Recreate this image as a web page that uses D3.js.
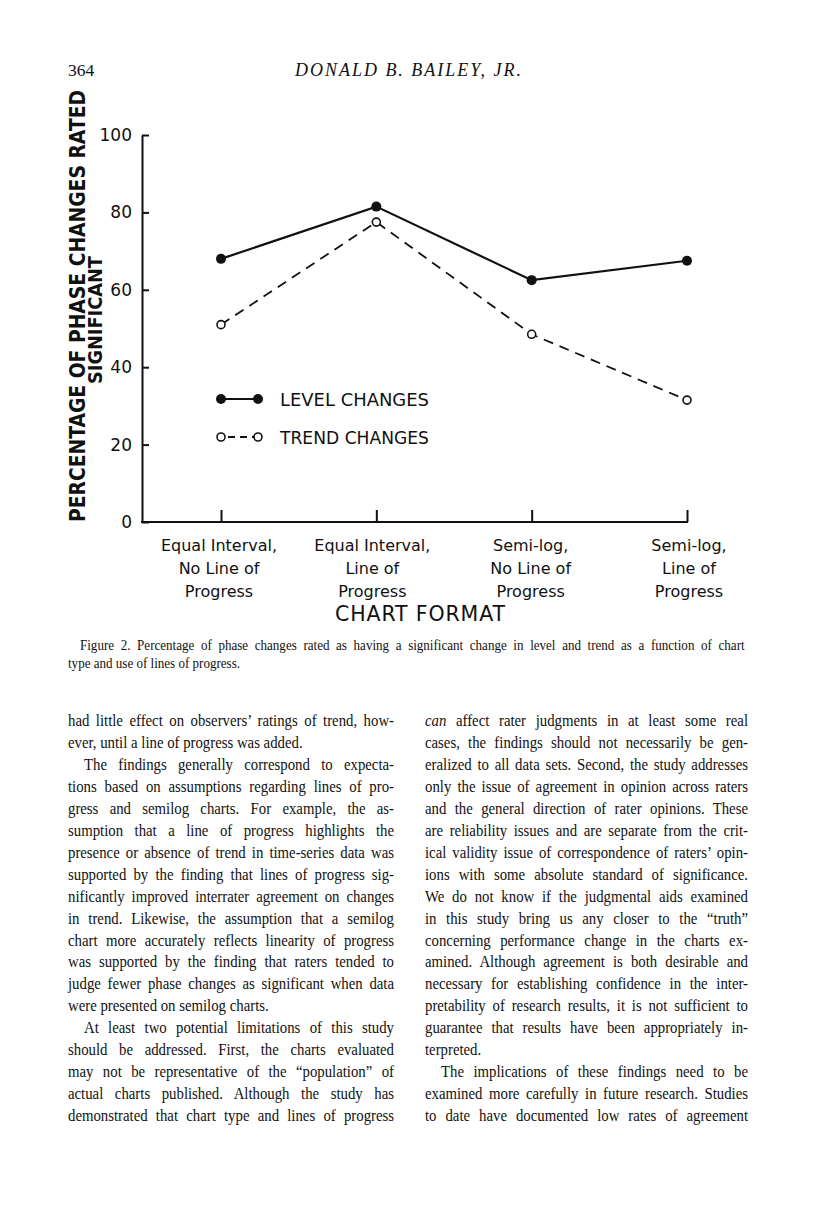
<!DOCTYPE html>
<html>
<head>
<meta charset="utf-8">
<script src="https://cdnjs.cloudflare.com/ajax/libs/d3/7.8.5/d3.min.js"></script>
<style>
	body { margin: 0; background: #fff; }
	svg { display: block; }
</style>
</head>
<body>
<script>
var formatLabels = [
		["Equal Interval,", "No Line of", "Progress"],
		["Equal Interval,", "Line of", "Progress"],
		["Semi-log,", "No Line of", "Progress"],
		["Semi-log,", "Line of", "Progress"]
	],
	formats = formatLabels.map(function(l) { return l.join(" "); }),
	levelChanges = [68, 81.5, 62.5, 67.5],
	trendChanges = [51, 77.5, 48.5, 31.5],
	yTicks = [0, 20, 40, 60, 80, 100];

// ">" = indented first line, "|" = last line of paragraph, *x* = italic
var leftLines = [
	"had little effect on observers\u2019 ratings of trend, how-",
	"ever, until a line of progress was added.|",
	">The findings generally correspond to expecta-",
	"tions based on assumptions regarding lines of pro-",
	"gress and semilog charts. For example, the as-",
	"sumption that a line of progress highlights the",
	"presence or absence of trend in time-series data was",
	"supported by the finding that lines of progress sig-",
	"nificantly improved interrater agreement on changes",
	"in trend. Likewise, the assumption that a semilog",
	"chart more accurately reflects linearity of progress",
	"was supported by the finding that raters tended to",
	"judge fewer phase changes as significant when data",
	"were presented on semilog charts.|",
	">At least two potential limitations of this study",
	"should be addressed. First, the charts evaluated",
	"may not be representative of the \u201Cpopulation\u201D of",
	"actual charts published. Although the study has",
	"demonstrated that chart type and lines of progress"
];

var rightLines = [
	"*can* affect rater judgments in at least some real",
	"cases, the findings should not necessarily be gen-",
	"eralized to all data sets. Second, the study addresses",
	"only the issue of agreement in opinion across raters",
	"and the general direction of rater opinions. These",
	"are reliability issues and are separate from the crit-",
	"ical validity issue of correspondence of raters\u2019 opin-",
	"ions with some absolute standard of significance.",
	"We do not know if the judgmental aids examined",
	"in this study bring us any closer to the \u201Ctruth\u201D",
	"concerning performance change in the charts ex-",
	"amined. Although agreement is both desirable and",
	"necessary for establishing confidence in the inter-",
	"pretability of research results, it is not sufficient to",
	"guarantee that results have been appropriately in-",
	"terpreted.|",
	">The implications of these findings need to be",
	"examined more carefully in future research. Studies",
	"to date have documented low rates of agreement"
];

var captionLines = [
	">Figure 2.  Percentage of phase changes rated as having a significant change in level and trend as a function of chart",
	"type and use of lines of progress.|"
];

var W = 816, H = 1205;
var ink = "#111";
var sans = "'DejaVu Sans', sans-serif",
		serif = "'Liberation Serif', 'Times New Roman', serif";

var svg = d3.select("body").append("svg")
	.attr("width", W)
	.attr("height", H)
	.attr("viewBox", "0 0 " + W + " " + H);

svg.append("rect").attr("width", W).attr("height", H).attr("fill", "#fff");

// running head
svg.append("text")
	.attr("x", 68).attr("y", 76)
	.attr("font-family", serif).attr("font-size", 17.5)
	.attr("fill", ink)
	.text("364");
svg.append("text")
	.attr("x", 408).attr("y", 76)
	.attr("text-anchor", "middle")
	.attr("font-family", serif).attr("font-size", 18)
	.attr("font-style", "italic")
	.attr("textLength", 226).attr("lengthAdjust", "spacing")
	.attr("fill", ink)
	.text("DONALD B. BAILEY, JR.");

// chart
var x = d3.scalePoint().domain(formats).range([221, 687]),
		y = d3.scaleLinear().domain([0, 100]).range([522, 135]);

var chart = svg.append("g").attr("class", "chart");

var yAxis = d3.axisLeft(y)
	.tickValues(yTicks)
	.tickSizeInner(-7)
	.tickSizeOuter(0)
	.tickPadding(10);

chart.append("g")
	.attr("class", "axis axis--y")
	.attr("transform", "translate(142,0)")
	.call(yAxis)
	.call(function(g) {
		g.select(".domain").attr("stroke", ink).attr("stroke-width", 2);
		g.selectAll(".tick line").attr("stroke", ink).attr("stroke-width", 2);
		g.selectAll(".tick text")
			.attr("fill", ink)
			.attr("font-family", sans)
			.attr("font-size", 17);
	});

var xAxis = d3.axisBottom(x)
	.tickSizeInner(-12)
	.tickSizeOuter(0)
	.tickFormat("");

chart.append("g")
	.attr("class", "axis axis--x")
	.attr("transform", "translate(0,522)")
	.call(xAxis)
	.call(function(g) {
		g.select(".domain").remove();
		g.selectAll(".tick line").attr("stroke", ink).attr("stroke-width", 2);
	});

chart.append("line")
	.attr("x1", 141).attr("x2", x(formats[3]) + 1)
	.attr("y1", y(0)).attr("y2", y(0))
	.attr("stroke", ink).attr("stroke-width", 2);

// category labels
var labelShift = [-2, -4, -1, 2];
formatLabels.forEach(function(lines, i) {
	var t = chart.append("text")
		.attr("text-anchor", "middle")
		.attr("font-family", sans)
		.attr("font-size", 16)
		.attr("fill", ink);
	lines.forEach(function(line, j) {
		t.append("tspan")
			.attr("x", x(formats[i]) + labelShift[i])
			.attr("y", 551 + j * 23)
			.text(line);
	});
});

chart.append("text")
	.attr("x", 420).attr("y", 621)
	.attr("text-anchor", "middle")
	.attr("font-family", sans)
	.attr("font-size", 20.5)
	.attr("textLength", 170).attr("lengthAdjust", "spacing")
	.attr("fill", ink)
	.text("CHART FORMAT");

// y label
chart.append("text")
	.attr("transform", "translate(85,306) rotate(-90)")
	.attr("text-anchor", "middle")
	.attr("font-family", sans)
	.attr("font-weight", "bold")
	.attr("font-size", 20.5)
	.attr("textLength", 432).attr("lengthAdjust", "spacingAndGlyphs")
	.attr("fill", ink)
	.text("PERCENTAGE OF PHASE CHANGES RATED");
chart.append("text")
	.attr("transform", "translate(102,320) rotate(-90)")
	.attr("text-anchor", "middle")
	.attr("font-family", sans)
	.attr("font-weight", "bold")
	.attr("font-size", 19)
	.attr("textLength", 128).attr("lengthAdjust", "spacingAndGlyphs")
	.attr("fill", ink)
	.text("SIGNIFICANT");

// series
var line = d3.line()
	.x(function(d, i) { return x(formats[i]); })
	.y(function(d) { return y(d); });

chart.append("path")
	.datum(trendChanges)
	.attr("d", line)
	.attr("fill", "none")
	.attr("stroke", ink)
	.attr("stroke-width", 1.8)
	.attr("stroke-dasharray", "10,7");

chart.append("path")
	.datum(levelChanges)
	.attr("d", line)
	.attr("fill", "none")
	.attr("stroke", ink)
	.attr("stroke-width", 2.2);

chart.selectAll(".pt-level")
	.data(levelChanges)
	.enter().append("circle")
		.attr("class", "pt-level")
		.attr("cx", function(d, i) { return x(formats[i]); })
		.attr("cy", function(d) { return y(d); })
		.attr("r", 5)
		.attr("fill", ink);

chart.selectAll(".pt-trend")
	.data(trendChanges)
	.enter().append("circle")
		.attr("class", "pt-trend")
		.attr("cx", function(d, i) { return x(formats[i]); })
		.attr("cy", function(d) { return y(d); })
		.attr("r", 4)
		.attr("fill", "#fff")
		.attr("stroke", ink)
		.attr("stroke-width", 1.6);

// legend
var legend = chart.append("g").attr("class", "legend");
var legendRows = [
	{ label: "LEVEL CHANGES", y: 399, filled: true },
	{ label: "TREND CHANGES", y: 437, filled: false }
];
legendRows.forEach(function(row) {
	legend.append("line")
		.attr("x1", 221).attr("x2", 258)
		.attr("y1", row.y).attr("y2", row.y)
		.attr("stroke", ink)
		.attr("stroke-width", row.filled ? 2.2 : 1.8)
		.attr("stroke-dasharray", row.filled ? null : "7,5")
		.attr("stroke-dashoffset", row.filled ? null : -7);
	[221, 258].forEach(function(cx) {
		legend.append("circle")
			.attr("cx", cx).attr("cy", row.y)
			.attr("r", row.filled ? 5 : 4)
			.attr("fill", row.filled ? ink : "#fff")
			.attr("stroke", row.filled ? null : ink)
			.attr("stroke-width", 1.6);
	});
	legend.append("text")
		.attr("x", 280).attr("y", row.y + 6.5)
		.attr("font-family", sans)
		.attr("font-size", 17.5)
		.attr("textLength", 149).attr("lengthAdjust", "spacingAndGlyphs")
		.attr("fill", ink)
		.text(row.label);
});

// justified text blocks, glyphs narrowed by sx to mimic a Garamond face
function drawBlock(lines, x0, width, y0, lineH, size, indent, sx) {
	lines.forEach(function(raw, i) {
		var ind = raw.charAt(0) == ">",
				last = raw.slice(-1) == "|",
				str = raw.replace(/^>/, "").replace(/\|$/, ""),
				lx = x0 + (ind ? indent : 0),
				target = (width - (ind ? indent : 0)) / sx;

		var t = svg.append("text")
			.attr("transform", "translate(" + lx + "," + (y0 + i * lineH) + ") scale(" + sx + ",1)")
			.attr("font-family", serif)
			.attr("font-size", size)
			.attr("fill", ink);

		str.split(/(\*[^*]+\*)/).forEach(function(part) {
			if(!part) return;
			var it = part.charAt(0) == "*";
			t.append("tspan")
				.attr("font-style", it ? "italic" : null)
				.text(it ? part.slice(1, -1) : part);
		});

		var natural = t.node().getComputedTextLength(),
				spaces = (str.match(/ /g) || []).length;
		if(last) {
			if(natural > target) t.attr("textLength", target).attr("lengthAdjust", "spacingAndGlyphs");
			return;
		}
		if(natural <= target && spaces) {
			t.attr("word-spacing", (target - natural) / spaces);
		} else {
			t.attr("textLength", target).attr("lengthAdjust", "spacingAndGlyphs");
		}
	});
}

drawBlock(captionLines, 68, 680, 650, 18, 14.5, 12, 0.9);
drawBlock(leftLines, 68, 326, 726, 21.95, 17, 16, 0.87);
drawBlock(rightLines, 425, 323, 726, 21.95, 17, 16, 0.87);
</script>
</body>
</html>
